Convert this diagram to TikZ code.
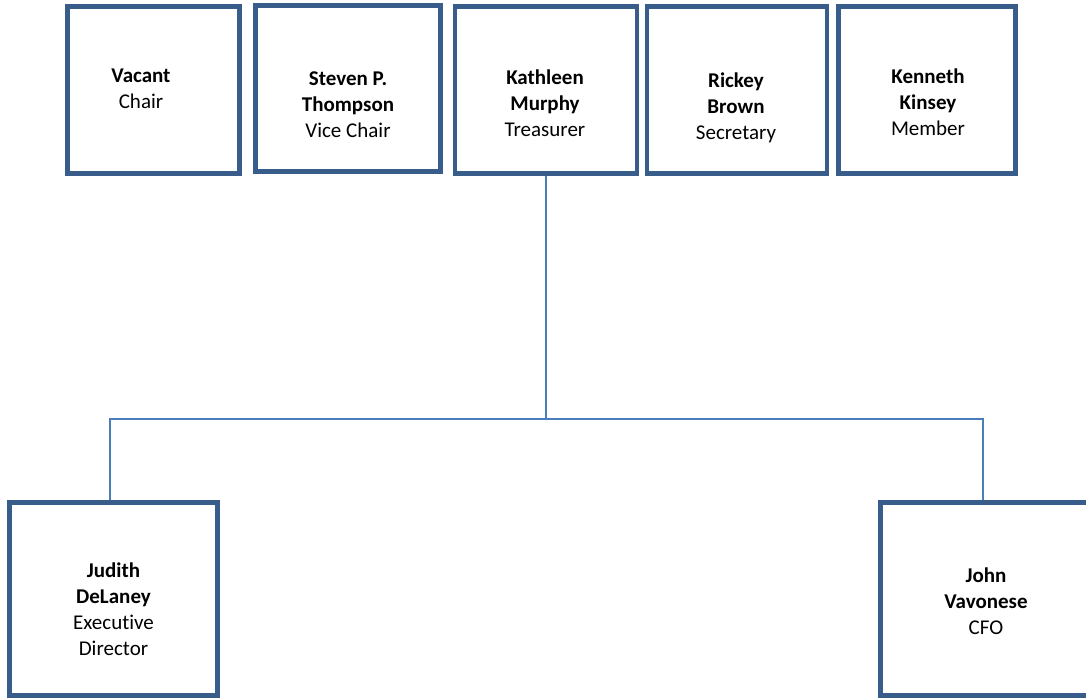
\documentclass[tikz,border=0pt]{standalone}
\usepackage{fontspec}
\setmainfont[Ligatures=NoCommon]{Carlito}
\definecolor{boxblue}{HTML}{385D8A}
\definecolor{lineblue}{HTML}{4A7EBB}
\begin{document}
\begin{tikzpicture}[x=1pt, y=-1pt,
        member/.style={draw=boxblue, line width=4.75pt, rectangle, minimum width=180pt, minimum height=167pt, inner sep=0pt},
        role/.style={align=center, anchor=north, inner sep=0pt, font=\fontsize{21}{26}\selectfont},
        link/.style={draw=lineblue, line width=1.25pt}
    ]
    \clip (0,0) rectangle (1086,698);

    % board row
    \node[member, minimum width=172pt] (vacant) at (153.5,90) {};
    \node[member, minimum width=185pt, minimum height=166pt] (steven) at (348,88.5) {};
    \node[member, minimum width=182pt] (kathleen) at (546,90) {};
    \node[member, minimum width=180pt] (rickey) at (737,90) {};
    \node[member, minimum width=177pt] (kenneth) at (927,90) {};

    \node[role] (vacant-txt) at (141,69) {\textbf{Vacant}\\Chair};
    \node[role] (steven-txt) at (348,72) {\textbf{Steven P.}\\\textbf{Thompson}\\Vice Chair};
    \node[role] (kathleen-txt) at (545,70) {\textbf{Kathleen}\\\textbf{Murphy}\\Treasurer};
    \node[role] (rickey-txt) at (736,73) {\textbf{Rickey}\\\textbf{Brown}\\Secretary};
    \node[role] (kenneth-txt) at (928,69) {\textbf{Kenneth}\\\textbf{Kinsey}\\Member};

    % staff row
    \node[member, minimum width=208pt, minimum height=193pt] (judith) at (113.5,599) {};
    \node[member, minimum width=211pt, minimum height=193pt] (john) at (986,599) {};

    \node[role] (judith-txt) at (113.5,563) {\textbf{Judith}\\\textbf{DeLaney}\\Executive\\Director};
    \node[role] (john-txt) at (986,568) {\textbf{John}\\\textbf{Vavonese}\\CFO};

    % connectors
    \coordinate (bus) at (546,419);
    \draw[link] (kathleen.south) -- (kathleen.south |- bus);
    \draw[link] ([xshift=-3.5pt]judith.north) |- (bus) -| ([xshift=-3pt]john.north);

\end{tikzpicture}
\end{document}
